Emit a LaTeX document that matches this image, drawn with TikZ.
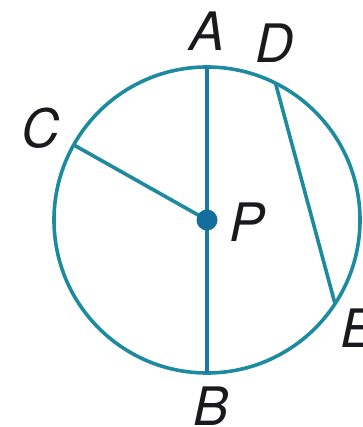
\documentclass[tikz,border=0pt]{standalone}
\usepackage{fontspec}
\setmainfont{TeX Gyre Heros}
\usetikzlibrary{calc}
\definecolor{circcol}{RGB}{30,138,160}
\definecolor{diamcol}{RGB}{24,122,165}
\definecolor{dotcol}{RGB}{20,110,155}
\definecolor{labcol}{RGB}{25,25,30}
\begin{document}
\begin{tikzpicture}[x=1pt,y=1pt,
  lab/.style={inner sep=0pt,anchor=center,text=labcol,font=\fontsize{53}{60}\selectfont\itshape},
  circline/.style={draw=circcol,line width=3.6pt},
  diamline/.style={draw=diamcol,line width=4.6pt}]
\useasboundingbox (0,0) rectangle (362,427);
\coordinate (P) at (207,207);
\coordinate (A) at ($(P)+(90:153)$);
\coordinate (B) at ($(P)+(-90:153)$);
\coordinate (C) at ($(P)+(150.6:153)$);
\coordinate (D) at ($(P)+(63.4:153)$);
\coordinate (E) at ($(P)+(-33.2:153)$);
\draw[circline] (P) circle[radius=153];
\draw[diamline] (A) -- (B);
\draw[circline] (P) -- (C);
\draw[circline] (D) -- (E);
\fill[dotcol] (P) circle[radius=10.5];
\node[lab] (lA) at (207,396) {A};
\node[lab] (lD) at (275,384) {D};
\node[lab] (lC) at (41,299) {C};
\node[lab] (lP) at (247,205) {P};
\node[lab] (lB) at (211,21) {B};
\node[lab] (lE) at (358,99) {E};
\end{tikzpicture}
\end{document}
